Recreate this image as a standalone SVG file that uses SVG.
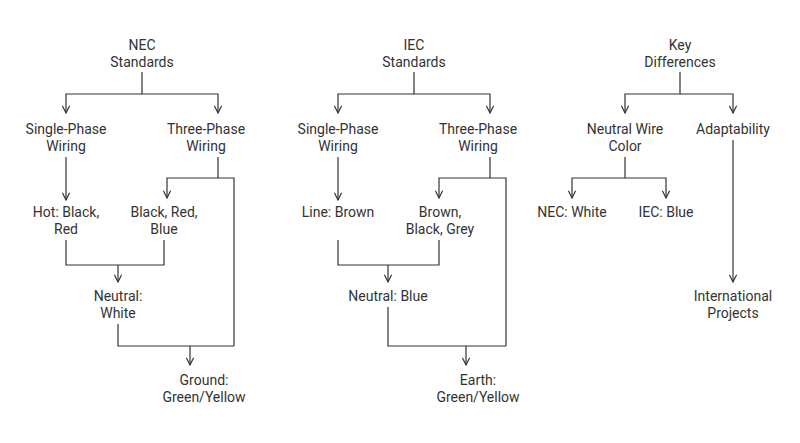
<svg xmlns="http://www.w3.org/2000/svg" width="800" height="443" viewBox="0 0 800 443">
<style>
text{font-family:Roboto,"Liberation Sans",sans-serif;font-size:14px;fill:#333;text-anchor:middle}
.c path{fill:none;stroke:#333;stroke-width:1.2}
</style>
<defs><marker id="a" viewBox="0 0 10 10" refX="9" refY="5" markerWidth="9" markerHeight="9" orient="auto" markerUnits="userSpaceOnUse"><path d="M1,1L9,5L1,9" fill="none" stroke="#333" stroke-width="1.3"/></marker></defs>
<rect width="800" height="443" fill="#fff"/>
<g class="c">
<path d="M142,72V94H66V113" marker-end="url(#a)"/><path d="M142,94H218V113" marker-end="url(#a)"/>
<path d="M66,157V200" marker-end="url(#a)"/>
<path d="M218,157V178H167V198" marker-end="url(#a)"/><path d="M218,178H234V346"/>
<path d="M66,240V265H164V240"/><path d="M118,265V282" marker-end="url(#a)"/>
<path d="M118,324V346H234"/><path d="M190,346V365" marker-end="url(#a)"/>
<path d="M414,72V94H338V113" marker-end="url(#a)"/><path d="M414,94H490V113" marker-end="url(#a)"/>
<path d="M338,157V200" marker-end="url(#a)"/>
<path d="M490,157V178H439V198" marker-end="url(#a)"/><path d="M490,178H506V346"/>
<path d="M338,240V265H439V240"/><path d="M388,265V282" marker-end="url(#a)"/>
<path d="M388,307V346H506"/><path d="M466,346V365" marker-end="url(#a)"/>
<path d="M680,72V94H625V113" marker-end="url(#a)"/><path d="M680,94H733V113" marker-end="url(#a)"/>
<path d="M625,157V178H572V198" marker-end="url(#a)"/><path d="M625,178H666V198" marker-end="url(#a)"/>
<path d="M733,140V282" marker-end="url(#a)"/>
</g>
<g id="nec"><text x="142" y="50">NEC</text><text x="142" y="67">Standards</text></g>
<g id="nec-sp"><text x="66" y="134">Single-Phase</text><text x="66" y="151">Wiring</text></g>
<g id="nec-tp"><text x="206" y="134">Three-Phase</text><text x="206" y="151">Wiring</text></g>
<g id="nec-hot"><text x="66" y="217">Hot: Black,</text><text x="66" y="234">Red</text></g>
<g id="nec-brb"><text x="164" y="217">Black, Red,</text><text x="164" y="234">Blue</text></g>
<g id="nec-n"><text x="118" y="301">Neutral:</text><text x="118" y="318">White</text></g>
<g id="nec-g"><text x="204" y="385">Ground:</text><text x="204" y="402">Green/Yellow</text></g>
<g id="iec"><text x="414" y="50">IEC</text><text x="414" y="67">Standards</text></g>
<g id="iec-sp"><text x="338" y="134">Single-Phase</text><text x="338" y="151">Wiring</text></g>
<g id="iec-tp"><text x="478" y="134">Three-Phase</text><text x="478" y="151">Wiring</text></g>
<g id="iec-line"><text x="338" y="217">Line: Brown</text></g>
<g id="iec-bbg"><text x="440" y="217">Brown,</text><text x="440" y="234">Black, Grey</text></g>
<g id="iec-n"><text x="388" y="301">Neutral: Blue</text></g>
<g id="iec-e"><text x="478" y="385">Earth:</text><text x="478" y="402">Green/Yellow</text></g>
<g id="key"><text x="680" y="50">Key</text><text x="680" y="67">Differences</text></g>
<g id="nwc"><text x="625" y="134">Neutral Wire</text><text x="625" y="151">Color</text></g>
<g id="adapt"><text x="733" y="134">Adaptability</text></g>
<g id="necw"><text x="572" y="217">NEC: White</text></g>
<g id="iecb"><text x="666" y="217">IEC: Blue</text></g>
<g id="intl"><text x="733" y="301">International</text><text x="733" y="318">Projects</text></g>
</svg>
